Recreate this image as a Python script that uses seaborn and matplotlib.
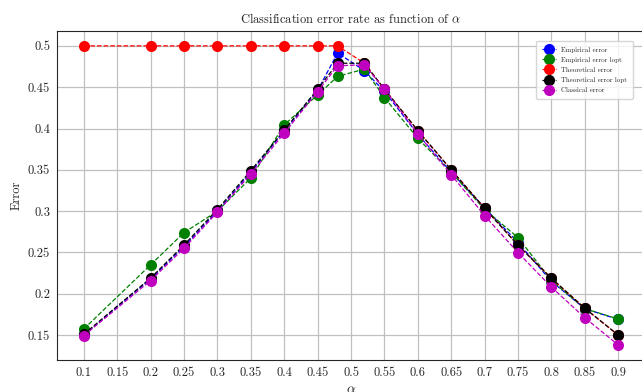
import numpy as np
import pandas as pd
import seaborn as sns
import matplotlib
matplotlib.use("Agg")
import matplotlib.pyplot as plt

alphas = [0.1, 0.2, 0.25, 0.3, 0.35, 0.4, 0.45, 0.48, 0.52, 0.55, 0.6, 0.65, 0.7, 0.75, 0.8, 0.85, 0.9]

empirical = [0.150, 0.218, 0.257, 0.300, 0.347, 0.397, 0.446, 0.4915, 0.470, 0.445, 0.393, 0.347, 0.304, 0.262, 0.215, 0.182, 0.169]
empirical_lopt = [0.1574, 0.235, 0.274, 0.300, 0.340, 0.4044, 0.4407, 0.463, 0.472, 0.4375, 0.388, 0.347, 0.302, 0.268, 0.216, 0.182, 0.1695]
theoretical = [0.5, 0.5, 0.5, 0.5, 0.5, 0.5, 0.5, 0.5, 0.479, 0.4476, 0.3975, 0.350, 0.3035, 0.2587, 0.2187, 0.1824, 0.150]
theoretical_lopt = [0.151, 0.219, 0.259, 0.302, 0.349, 0.398, 0.4476, 0.479, 0.479, 0.4476, 0.3975, 0.350, 0.3035, 0.2587, 0.2187, 0.1824, 0.150]
classical = [0.1493, 0.216, 0.255, 0.2987, 0.345, 0.3943, 0.4447, 0.476, 0.477, 0.4476, 0.3935, 0.344, 0.2946, 0.2498, 0.208, 0.171, 0.138]

series = [
    ("Empirical error", empirical, "b"),
    ("Empirical error lopt", empirical_lopt, "g"),
    ("Theoretical error", theoretical, "r"),
    ("Theoretical error lopt", theoretical_lopt, "k"),
    ("Classical error", classical, "m"),
]

sns.set_style("ticks")
plt.rcParams["font.family"] = "serif"
plt.rcParams["font.serif"] = ["cmr10"]
plt.rcParams["mathtext.fontset"] = "cm"
plt.rcParams["axes.formatter.use_mathtext"] = True

fig = plt.figure(figsize=(6.42, 3.92), dpi=100)
ax = fig.add_axes([57 / 642, 1 - 360 / 392, (645 - 57) / 642, (360 - 31) / 392])

for name, vals, col in series:
    df = pd.DataFrame({"alpha": alphas, "err": vals})
    sns.lineplot(data=df, x="alpha", y="err", ax=ax, color=col, linestyle="--",
                 linewidth=0.9, marker="o", markersize=8, markeredgewidth=0,
                 label=name)

ax.set_xticks(np.arange(0.1, 0.91, 0.05))
ax.set_xticklabels([f"{t:g}" for t in np.round(np.arange(0.1, 0.91, 0.05), 2)])
ax.set_yticks([0.15, 0.2, 0.25, 0.3, 0.35, 0.4, 0.45, 0.5])
ax.set_yticklabels(["0.15", "0.2", "0.25", "0.3", "0.35", "0.4", "0.45", "0.5"])
ax.set_xlim(0.06, 0.94)
ax.set_ylim(0.1199, 0.518)
ax.grid(True, color="#c0c0c0", linewidth=0.9)
ax.tick_params(labelsize=9, length=0, pad=5)
ax.set_xlabel(r"$\alpha$", fontsize=10)
ax.set_ylabel("Error", fontsize=9)
ax.set_title(r"Classification error rate as function of $\alpha$", fontsize=9)
ax.legend(loc="upper right", fontsize=5, markerscale=1.0, handlelength=2,
          borderpad=0.8, labelspacing=0.6, framealpha=0.8,
          bbox_to_anchor=(0.985, 0.98))

fig.savefig("out.png", dpi=100)
